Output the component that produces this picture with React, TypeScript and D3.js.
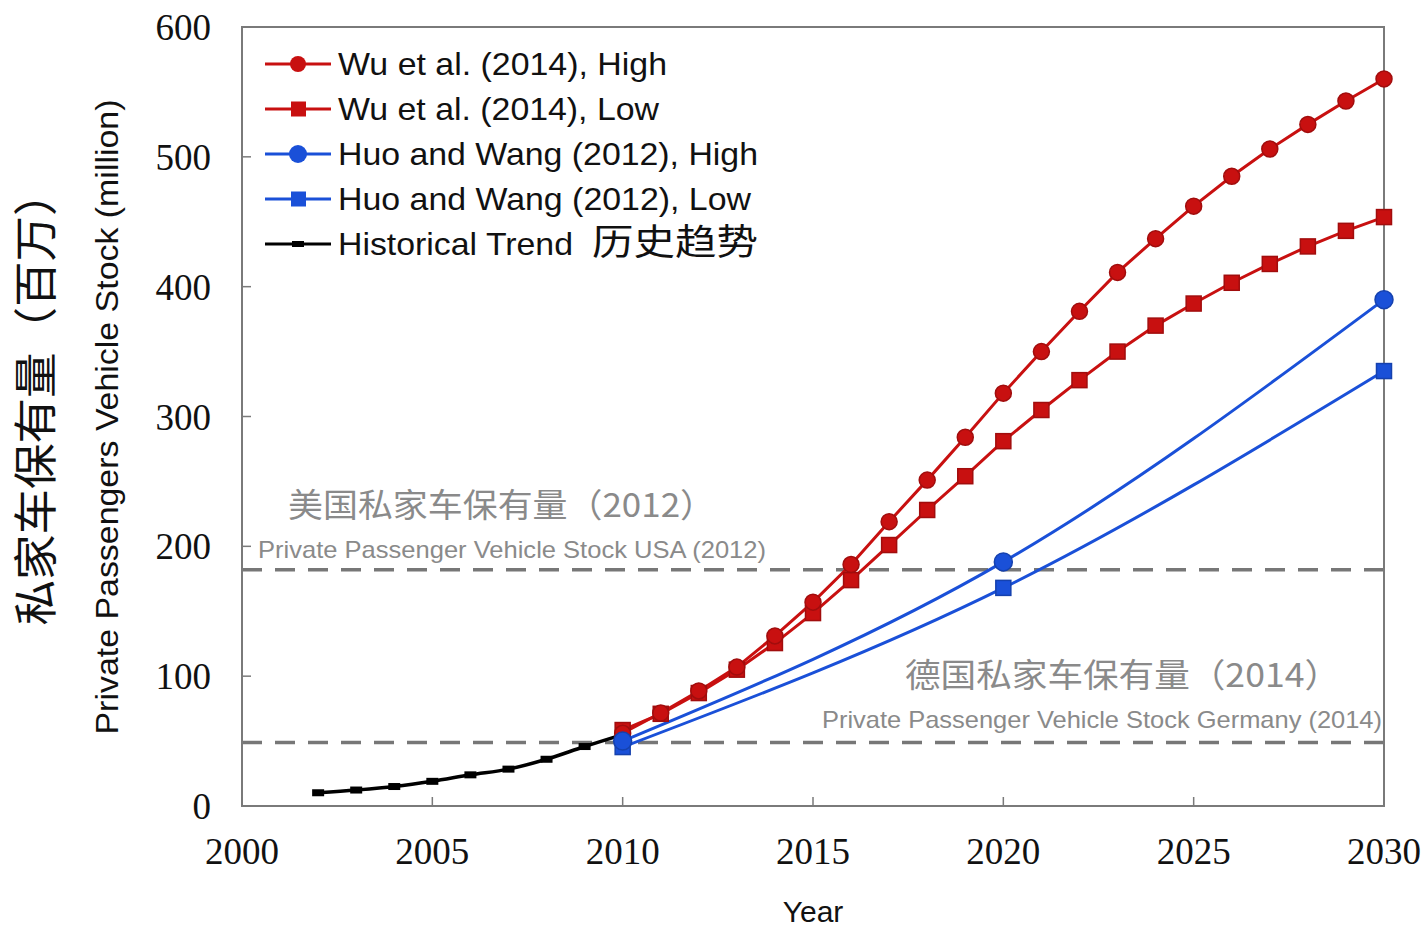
import * as d3 from 'd3';

// data (million vehicles)
const histYears = [2002, 2003, 2004, 2005, 2006, 2007, 2008, 2009, 2010];
const histValues = [10.2, 12.3, 15, 19, 24, 28.4, 36, 45.8, 55];

const wuYears = [2010, 2011, 2012, 2013, 2014, 2015, 2016, 2017, 2018, 2019, 2020,
  2021, 2022, 2023, 2024, 2025, 2026, 2027, 2028, 2029, 2030];
const wuHigh = [56, 71.6, 88.6, 107, 131, 157, 186, 219, 251, 284, 318,
  350, 381, 411, 437, 462, 485, 506, 525, 543, 560];
const wuLow = [58.5, 71, 87, 105, 125.5, 148.6, 174, 201, 228, 254, 281,
  305, 328, 350, 370, 387, 403, 417.5, 431, 443, 453.6];

const huoYears = [2010, 2020, 2030];
const huoHigh = [50, 188, 390];
const huoLow = [45.4, 168, 335];

const usaStock = 182;
const germanyStock = 49;

const xTicks = [2000, 2005, 2010, 2015, 2020, 2025, 2030];
const yTicks = [0, 100, 200, 300, 400, 500, 600];

const legendItems = [
  { label: 'Wu et al. (2014), High', color: '#c81010', marker: 'circle', len: 329 },
  { label: 'Wu et al. (2014), Low', color: '#c81010', marker: 'square', len: 321 },
  { label: 'Huo and Wang (2012), High', color: '#1a50d8', marker: 'circle', len: 420 },
  { label: 'Huo and Wang (2012), Low', color: '#1a50d8', marker: 'square', len: 413 },
  { label: 'Historical Trend', color: '#000', marker: 'dash', len: 235 },
];

export default function App() {
  const width = 1425;
  const height = 929;
  const marginLeft = 242;
  const marginRight = 41;
  const marginTop = 27;
  const marginBottom = 123;

  const x = d3.scaleLinear().domain([2000, 2030]).range([marginLeft, width - marginRight]);
  const y = d3.scaleLinear().domain([0, 600]).range([height - marginBottom, marginTop]);

  const red = '#c81010';
  const blue = '#1a50d8';
  const axisColor = '#7a7a7a';
  const grey = '#8a8a8a';
  const sans = 'Arial, "Liberation Sans", sans-serif';
  const serif = '"Times New Roman", "Liberation Serif", serif';
  const cjk = '"Noto Sans CJK SC", sans-serif';
  const fit = { lengthAdjust: 'spacingAndGlyphs' as const };

  const line = d3.line<[number, number]>().x(d => x(d[0])).y(d => y(d[1]));
  const smooth = d3.line<[number, number]>().x(d => x(d[0])).y(d => y(d[1])).curve(d3.curveMonotoneX);

  const zip = (xs: number[], vs: number[]) => xs.map((v, i) => [v, vs[i]] as [number, number]);
  const hist = zip(histYears, histValues);
  const wH = zip(wuYears, wuHigh);
  const wL = zip(wuYears, wuLow);
  const hH = zip(huoYears, huoHigh);
  const hL = zip(huoYears, huoLow);

  const circle = (d: [number, number], r: number, c: string, k: string) =>
    <circle key={k} cx={x(d[0])} cy={y(d[1])} r={r} fill={c} stroke={d3.color(c)!.darker(0.6).toString()} strokeWidth={1.5} />;
  const square = (d: [number, number], s: number, c: string, k: string) =>
    <rect key={k} x={x(d[0]) - s / 2} y={y(d[1]) - s / 2} width={s} height={s} fill={c} stroke={d3.color(c)!.darker(0.6).toString()} strokeWidth={1.5} />;

  const x0 = x.range()[0], x1 = x.range()[1];
  const yb = y.range()[0], yt = y.range()[1];

  return (
    <svg width={width} height={height} style={{ position: 'absolute', left: 0, top: 0, background: '#fff' }}>
      {/* reference lines */}
      <line x1={x0} x2={x1} y1={y(usaStock)} y2={y(usaStock)} stroke="#777" strokeWidth={3.5} strokeDasharray="20 13" />
      <line x1={x0} x2={x1} y1={y(germanyStock)} y2={y(germanyStock)} stroke="#777" strokeWidth={3.5} strokeDasharray="20 13" />

      {/* frame */}
      <rect x={x0} y={yt} width={x1 - x0} height={yb - yt} fill="none" stroke={axisColor} strokeWidth={2} />
      {xTicks.map(t => (
        <g key={'xt' + t}>
          <line x1={x(t)} x2={x(t)} y1={yb} y2={yb - 9} stroke={axisColor} strokeWidth={1.5} />
          <text x={x(t)} y={yb + 58} textAnchor="middle" fontFamily={serif} fontSize={37} fill="#111">{t}</text>
        </g>
      ))}
      {yTicks.map(t => (
        <g key={'yt' + t}>
          <line x1={x0} x2={x0 + 9} y1={y(t)} y2={y(t)} stroke={axisColor} strokeWidth={1.5} />
          <text x={x0 - 31} y={y(t) + 13} textAnchor="end" fontFamily={serif} fontSize={37} fill="#111">{t}</text>
        </g>
      ))}

      {/* annotations */}
      <text x={288} y={517} fontFamily={cjk} fontSize={33} fill={grey} textLength={427} {...fit}>美国私家车保有量（2012）</text>
      <text x={258} y={558} fontFamily={sans} fontSize={24} fill={grey} textLength={508} {...fit}>Private Passenger Vehicle Stock USA (2012)</text>
      <text x={905} y={687} fontFamily={cjk} fontSize={33} fill={grey} textLength={435} {...fit}>德国私家车保有量（2014）</text>
      <text x={822} y={728} fontFamily={sans} fontSize={24} fill={grey} textLength={560} {...fit}>Private Passenger Vehicle Stock Germany (2014)</text>

      {/* series */}
      <path d={smooth(hL)!} fill="none" stroke={blue} strokeWidth={3} />
      <path d={smooth(hH)!} fill="none" stroke={blue} strokeWidth={3} />
      <path d={line(wL)!} fill="none" stroke={red} strokeWidth={3} />
      <path d={line(wH)!} fill="none" stroke={red} strokeWidth={3} />
      <path d={smooth(hist)!} fill="none" stroke="#000" strokeWidth={3.5} />
      {hist.map((d, i) => <rect key={'h' + i} x={x(d[0]) - 6} y={y(d[1]) - 3.5} width={12} height={7} fill="#000" />)}
      {wL.map((d, i) => square(d, 15, red, 'wl' + i))}
      {wH.map((d, i) => circle(d, 8, red, 'wh' + i))}
      {hL.map((d, i) => square(d, 15, blue, 'hl' + i))}
      {hH.map((d, i) => circle(d, 9, blue, 'hh' + i))}

      {/* legend */}
      {legendItems.map((it, i) => {
        const ly = 64 + i * 45;
        return (
          <g key={'lg' + i}>
            <line x1={265} x2={331} y1={ly} y2={ly} stroke={it.color} strokeWidth={3} />
            {it.marker === 'circle' && <circle cx={298} cy={ly} r={it.color === blue ? 9 : 8} fill={it.color} />}
            {it.marker === 'square' && <rect x={291} y={ly - 7.5} width={15} height={15} fill={it.color} />}
            {it.marker === 'dash' && <rect x={292} y={ly - 3} width={12} height={6} fill="#000" />}
            <text x={338} y={ly + 11} fontFamily={sans} fontSize={32} fill="#111" textLength={it.len} {...fit}>{it.label}</text>
          </g>
        );
      })}
      <text x={592} y={255} fontFamily={cjk} fontSize={36} fill="#111" textLength={166} {...fit}>历史趋势</text>

      {/* axis titles */}
      <text x={813} y={922} textAnchor="middle" fontFamily={sans} fontSize={30} fill="#111">Year</text>
      <text transform={`translate(118,417) rotate(-90)`} textAnchor="middle" fontFamily={sans} fontSize={31} fill="#111" textLength={635} {...fit}>Private Passengers Vehicle Stock (million)</text>
      <text transform={`translate(52,398) rotate(-90)`} textAnchor="middle" fontFamily={cjk} fontSize={44} fill="#111" textLength={455} {...fit}>私家车保有量（百万）</text>
    </svg>
  );
}
